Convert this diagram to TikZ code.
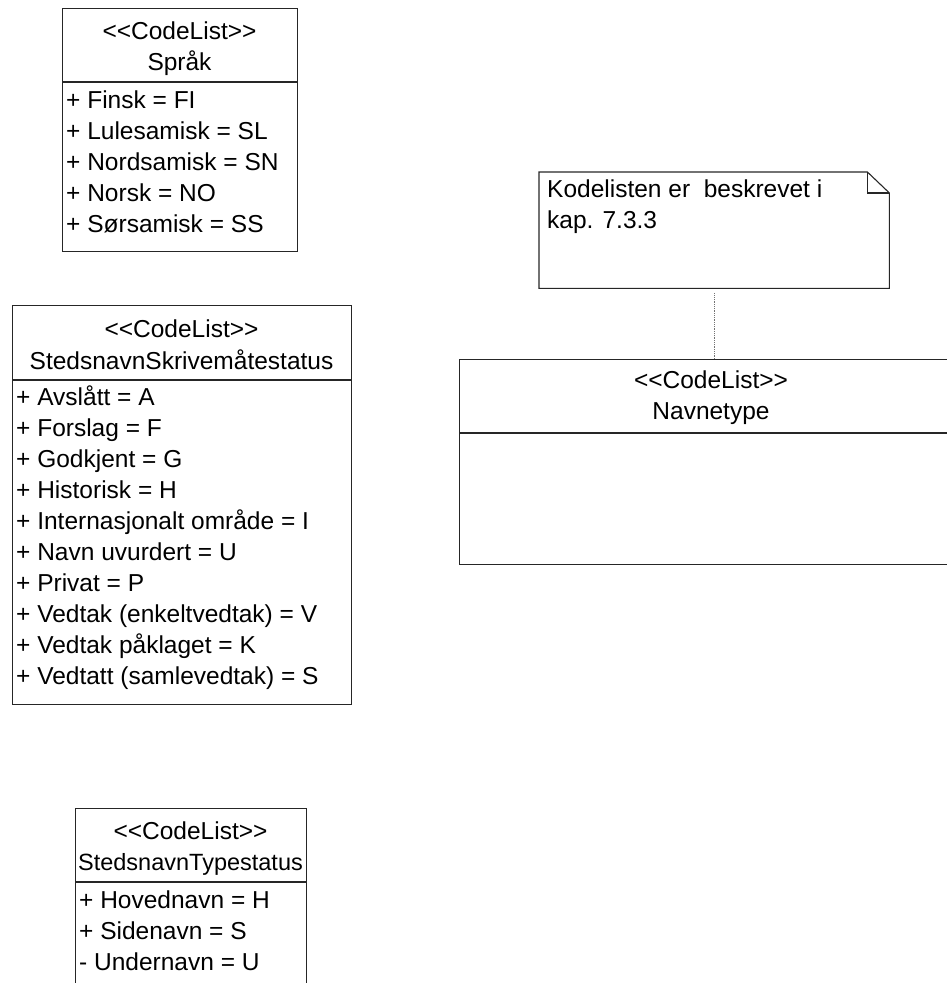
\documentclass[tikz,border=0pt]{standalone}
\usepackage{fontspec}
\setmainfont{Liberation Sans}
\usetikzlibrary{calc}

\newcommand{\codelist}{{<}{<}CodeList{>}{>}}

\tikzset{
  umlbox/.style={draw=black!85, line width=1.1pt, inner sep=0pt, anchor=north west},
  txt/.style={inner sep=0pt, font=\fontsize{24.5}{31}\selectfont},
  notelink/.style={draw=black!55, line width=0.8pt, densely dotted},
}

\begin{document}
\begin{tikzpicture}[x=1pt, y=-1pt]
\useasboundingbox (0,0) rectangle (947,983);
\clip (0,0) rectangle (947,983);

% Sprak
\node[umlbox, minimum width=235pt, minimum height=73pt] (sprakhead) at (62,8) {};
\node[umlbox, minimum width=235pt, minimum height=169pt] (sprakbody) at (sprakhead.south west) {};
\node[txt, anchor=base] (sprakstereo) at (179.5,39) {\codelist};
\node[txt, anchor=base] (sprakname) at (179.5,70) {Språk};
\foreach \t [count=\i from 0] in {{+ Finsk = FI}, {+ Lulesamisk = SL}, {+ Nordsamisk = SN}, {+ Norsk = NO}, {+ Sørsamisk = SS}}
  \node[txt, anchor=base west] (sprak\i) at (66, 108+31*\i) {\t};

% StedsnavnSkrivemaatestatus
\node[umlbox, minimum width=339pt, minimum height=74pt] (skrivhead) at (12,305) {};
\node[umlbox, minimum width=339pt, minimum height=324pt] (skrivbody) at (skrivhead.south west) {};
\node[txt, anchor=base] (skrivstereo) at (181.5,337) {\codelist};
\node[txt, anchor=base] (skrivname) at (181.5,369) {StedsnavnSkrivemåtestatus};
\foreach \t [count=\i from 0] in {{+ Avslått = A}, {+ Forslag = F}, {+ Godkjent = G}, {+ Historisk = H},
    {+ Internasjonalt område = I}, {+ Navn uvurdert = U}, {+ Privat = P},
    {+ Vedtak (enkeltvedtak) = V}, {+ Vedtak påklaget = K}, {+ Vedtatt (samlevedtak) = S}}
  \node[txt, anchor=base west] (skriv\i) at (16, 405+31*\i) {\t};

% StedsnavnTypestatus
\node[umlbox, minimum width=231pt, minimum height=73pt] (typehead) at (75,808) {};
\node[umlbox, minimum width=231pt, minimum height=110pt] (typebody) at (typehead.south west) {};
\node[txt, anchor=base] (typestereo) at (190.5,839) {\codelist};
\node[txt, anchor=base, font=\fontsize{23.5}{31}\selectfont] (typename) at (190.5,870) {StedsnavnTypestatus};
\foreach \t [count=\i from 0] in {{+ Hovednavn = H}, {+ Sidenavn = S}, {- Undernavn = U}}
  \node[txt, anchor=base west] (type\i) at (79, 908+31*\i) {\t};

% Navnetype
\node[umlbox, minimum width=504pt, minimum height=73pt] (navnhead) at (459,359) {};
\node[umlbox, minimum width=504pt, minimum height=131pt] (navnbody) at (navnhead.south west) {};
\node[txt, anchor=base] (navnstereo) at (711,388) {\codelist};
\node[txt, anchor=base] (navnname) at (711,419) {Navnetype};

% note
\node[inner sep=0pt, minimum width=350pt, minimum height=116pt, anchor=north west] (note) at (539,172) {};
\draw[black!85, line width=1.1pt] (note.north west) -- ([xshift=-22pt]note.north east)
  -- ([yshift=-21pt]note.north east) -- (note.south east) -- (note.south west) -- cycle;
\draw[black!85, line width=1.1pt] ([xshift=-22pt]note.north east) |- ([yshift=-21pt]note.north east);
\node[txt, anchor=base west] (notetext1) at (547,197) {Kodelisten er~~beskrevet i};
\node[txt, anchor=base west] (notetext2) at (547,228) {kap. 7.3.3};

\draw[notelink] ([yshift=-5pt]note.south) -- (note.south |- navnhead.north);
\end{tikzpicture}
\end{document}
